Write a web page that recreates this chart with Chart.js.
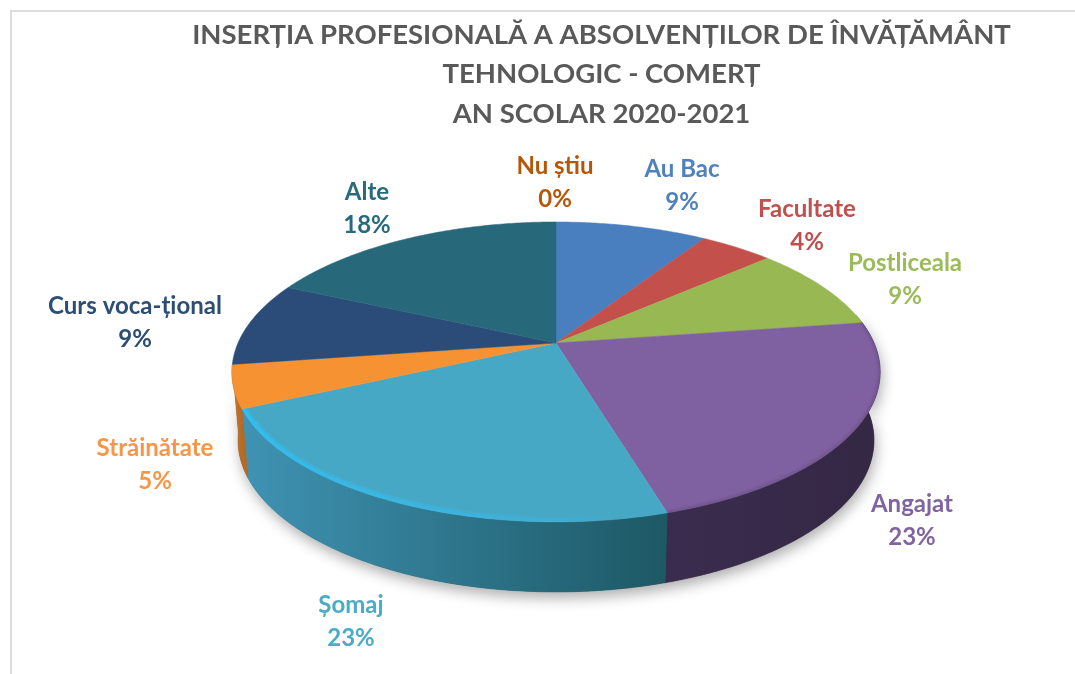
<!DOCTYPE html>
<html><head><meta charset="utf-8">
<style>html,body{margin:0;padding:0;background:#fff}#w{position:relative;width:1075px;height:674px}</style>
<script src="https://cdn.jsdelivr.net/npm/chart.js@4"></script>
</head><body><div id="w"><canvas id="c" width="1075" height="674"></canvas></div>
<script>
const categories = ["Au Bac","Facultate","Postliceala","Angajat","Șomaj","Străinătate","Curs voca-țional","Alte","Nu știu"];
const values = [9.1,4.4,9.2,22.7,22.7,4.6,9.1,18.2,0];
const titleLines = ["INSERȚIA PROFESIONALĂ A ABSOLVENȚILOR DE ÎNVĂȚĂMÂNT","TEHNOLOGIC - COMERȚ","AN SCOLAR 2020-2021"];
const sliceColors = ["#4a7fbf","#c4504c","#97b852","#7f60a0","#47a8c5","#f79233","#2b4c78","#27687a","#b65708"];
const textColors = ["#4f81bd","#c0504d","#9bbb59","#8064a2","#4bacc6","#f79646","#2c4d75","#276a7c","#b65708"];
const wallLeft = ["#35577f","#83362f","#677d3c","#3a2c4e","#3f93b3","#c87a30","#1d3350","#1a4753","#7a3a05"];
const wallRight = ["#35577f","#83362f","#677d3c","#352845","#1d5865","#b56a25","#1d3350","#1a4753","#7a3a05"];
const labelCentres = [[682,185],[807,225],[905,279],[912,520],[351,621],[155,464],[135,322],[367,208],[555,182]];

const HUB_X = 556, HUB_Y = 343, SX = 318, SY = 144.4, K = 0.193;
const BOT_SX = 312, BOT_SY = 146, BOT_Y = 411;

function topPt(a){const u=Math.cos(a),v=Math.sin(a),w=1-K*v;return [HUB_X+SX*u/w,HUB_Y+SY*v/w];}
function botPt(a){const u=Math.cos(a),v=Math.sin(a),w=1-K*v;return [HUB_X+BOT_SX*u/w,BOT_Y+BOT_SY*v/w];}
function traceRim(ctx,fn,a1,a2,first){
  const n=Math.max(2,Math.ceil(Math.abs(a2-a1)/0.01));
  for(let i=0;i<=n;i++){const p=fn(a1+(a2-a1)*i/n); if(i===0&&first)ctx.moveTo(p[0],p[1]); else ctx.lineTo(p[0],p[1]);}
}

const pie3d = {
  id:'pie3d',
  beforeDraw(chart){
    const ctx=chart.ctx; ctx.save();
    ctx.strokeStyle='#dcdcdc'; ctx.lineWidth=2;
    ctx.beginPath(); ctx.moveTo(1075,11); ctx.lineTo(11,11); ctx.lineTo(11,674); ctx.stroke();
    ctx.restore();
  },
  beforeDatasetDraw(chart,args){
    const ctx=chart.ctx, arcs=args.meta.data;
    const vis0=-0.2, vis1=Math.PI-0.146;
    ctx.save();
    // cast shadow, only under the visible wall
    ctx.save();
    ctx.shadowColor='rgba(0,0,0,0.32)'; ctx.shadowBlur=14; ctx.shadowOffsetY=6; ctx.shadowOffsetX=2;
    ctx.fillStyle='#444';
    ctx.beginPath(); traceRim(ctx,botPt,vis0,vis1,true); traceRim(ctx,topPt,vis1,vis0,false); ctx.closePath(); ctx.fill();
    ctx.restore();
    // side walls
    arcs.forEach((el,i)=>{
      if(!(el.circumference>0))return;
      let s=el.startAngle,e=el.endAngle;
      for(const shift of [0,Math.PI*2,-Math.PI*2]){
        const a1=Math.max(s+shift,vis0), a2=Math.min(e+shift,vis1);
        if(a2<=a1)continue;
        const p1=topPt(a1),p2=topPt(a2);
        const g=ctx.createLinearGradient(Math.min(p1[0],p2[0]),0,Math.max(p1[0],p2[0]),0);
        g.addColorStop(0,wallLeft[i]); g.addColorStop(1,wallRight[i]);
        ctx.fillStyle=g; ctx.strokeStyle=g; ctx.lineWidth=0.6;
        ctx.beginPath(); traceRim(ctx,topPt,a1,a2,true); traceRim(ctx,botPt,a2,a1,false); ctx.closePath(); ctx.fill(); ctx.stroke();
      }
    });
    // top surface
    arcs.forEach((el,i)=>{
      if(!(el.circumference>0))return;
      ctx.fillStyle=el.options.backgroundColor; ctx.strokeStyle=el.options.backgroundColor; ctx.lineWidth=0.5;
      ctx.beginPath(); ctx.moveTo(HUB_X,HUB_Y); traceRim(ctx,topPt,el.startAngle,el.endAngle,false); ctx.closePath(); ctx.fill(); ctx.stroke();
    });
    // soft bevel along the front rim of the top surface
    arcs.forEach((el,i)=>{
      if(categories[i]!=="Șomaj" && categories[i]!=="Angajat")return;
      ctx.save();
      ctx.beginPath(); ctx.moveTo(HUB_X,HUB_Y); traceRim(ctx,topPt,el.startAngle,el.endAngle,false); ctx.closePath(); ctx.clip();
      if(categories[i]==="Șomaj"){
        const g=ctx.createLinearGradient(245,0,620,0);
        g.addColorStop(0,'rgba(50,190,240,1)'); g.addColorStop(0.7,'rgba(60,180,225,0.75)'); g.addColorStop(1,'rgba(60,180,225,0)');
        ctx.strokeStyle=g; ctx.lineWidth=9;
      } else { ctx.strokeStyle='rgba(58,44,78,0.28)'; ctx.lineWidth=3; }
      ctx.filter='blur(1.5px)';
      ctx.beginPath(); traceRim(ctx,topPt,el.startAngle,el.endAngle,true); ctx.stroke();
      ctx.restore();
    });
    ctx.restore();
    return false;
  },
  afterDatasetsDraw(chart){
    const ctx=chart.ctx, total=values.reduce((a,b)=>a+b,0);
    ctx.save(); ctx.textAlign='center'; ctx.textBaseline='middle';
    ctx.font='bold 24px Lato, sans-serif';
    categories.forEach((c,i)=>{
      const [x,y]=labelCentres[i];
      ctx.fillStyle=textColors[i];
      ctx.fillText(c,x,y-16);
      ctx.fillText(Math.round(values[i]/total*100)+'%',x,y+17);
    });
    ctx.restore();
  }
};

new Chart(document.getElementById('c'),{
  type:'pie',
  data:{labels:categories,datasets:[{data:values,backgroundColor:sliceColors,borderWidth:0}]},
  options:{
    responsive:false,animation:false,
    layout:{padding:{left:128,top:6}},
    plugins:{
      legend:{display:false},tooltip:{enabled:false},
      title:{display:true,text:titleLines,color:'#595959',font:{family:'Lato, sans-serif',weight:'bold',size:27.5,lineHeight:1.42},padding:{top:10,bottom:0}}
    }
  },
  plugins:[pie3d]
});
</script></body></html>
